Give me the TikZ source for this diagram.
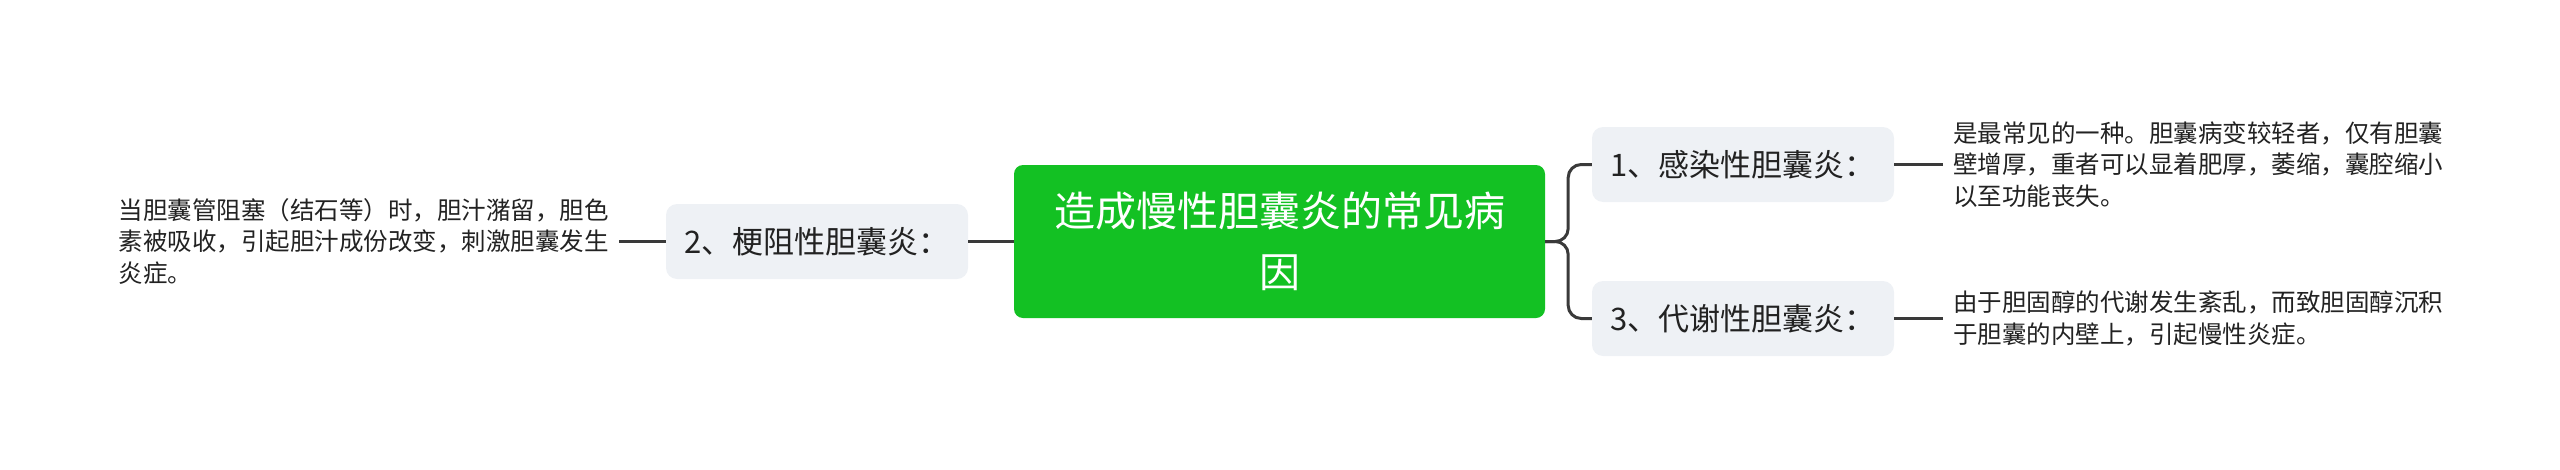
\documentclass[tikz,border=0pt]{standalone}
\usepackage{fontspec}
\setmainfont{Noto Sans CJK SC}
\usepackage{tikz}
\usetikzlibrary{positioning}
\definecolor{rootgreen}{HTML}{13C123}
\definecolor{subgrey}{HTML}{EEF1F5}
\definecolor{linegrey}{HTML}{3A3A3A}
\definecolor{txtgrey}{HTML}{222222}

\begin{document}
\begin{tikzpicture}[x=1pt,y=1pt]
        \tikzset{racine/.style={fill=rootgreen,rounded corners=9pt,minimum width=531pt,minimum height=153pt,align=center,text=white,font=\fontsize{41}{61}\selectfont},
                 branche/.style={fill=subgrey,rounded corners=11pt,minimum width=302pt,minimum height=75pt,text=txtgrey,font=\fontsize{31}{38}\selectfont},
                 feuille/.style={align=left,inner xsep=10pt,text=txtgrey,font=\fontsize{24.5}{31.5}\selectfont},
                 lien/.style={draw=linegrey,line width=3pt}}
        \useasboundingbox (0,0) rectangle (2560,-469);
        \node[racine] (C) at (1279.5,-241.5) {造成慢性胆囊炎的常见病\\因};
        \node[branche] (B1) at (1743,-164.5) {1、感染性胆囊炎：};
        \node[branche] (B2) at (817,-241.5) {2、梗阻性胆囊炎：};
        \node[branche] (B3) at (1743,-318.5) {3、代谢性胆囊炎：};
        \node[feuille,anchor=west] (F1) at (1943,-164.5) {是最常见的一种。胆囊病变较轻者，仅有胆囊\\壁增厚，重者可以显着肥厚，萎缩，囊腔缩小\\以至功能丧失。};
        \node[feuille,anchor=east] (F2) at (619,-241.5) {当胆囊管阻塞（结石等）时，胆汁潴留，胆色\\素被吸收，引起胆汁成份改变，刺激胆囊发生\\炎症。};
        \node[feuille,anchor=west] (F3) at (1943,-318.5) {由于胆固醇的代谢发生紊乱，而致胆固醇沉积\\于胆囊的内壁上，引起慢性炎症。};
        \draw[lien,rounded corners=13pt] (C.east) -- ++(23,0) |- (B1.west);
        \draw[lien,rounded corners=13pt] (C.east) -- ++(23,0) |- (B3.west);
        \draw[lien] (C.west) -- (B2.east);
        \draw[lien] (B2.west) -- (F2.east);
        \draw[lien] (B1.east) -- (F1.west);
        \draw[lien] (B3.east) -- (F3.west);
\end{tikzpicture}
\end{document}
